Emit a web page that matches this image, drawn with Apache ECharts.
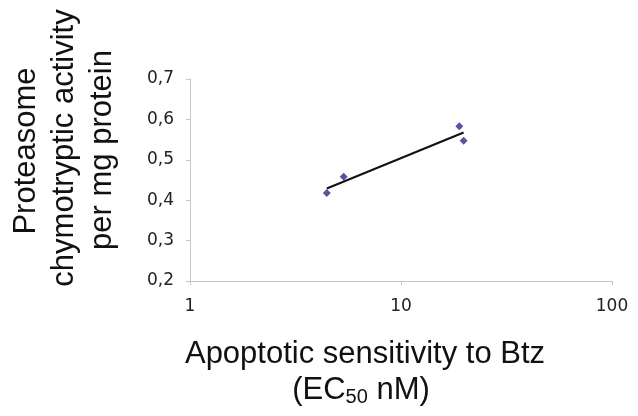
<!DOCTYPE html>
<html><head><meta charset="utf-8">
<script src="https://cdn.jsdelivr.net/npm/echarts@6/dist/echarts.min.js"></script>
<style>html,body{margin:0;padding:0;background:#fff}#c{width:638px;height:416px}</style>
</head><body><div id="c"></div>
<script>
// EC50 (nM) and proteasome activity
const ec50 = [4.45, 5.35, 18.9, 19.8];
const activity = [0.418, 0.458, 0.583, 0.547];
const yTitleLines = ['Proteasome', 'chymotryptic activity', 'per mg protein'];
const xTitleLine1 = 'Apoptotic sensitivity to Btz';

const points = ec50.map((x, i) => [x, activity[i]]);
// logarithmic trendline (straight on log axis), least squares fit of the data
const lx = ec50.map(v => Math.log10(v));
const mx = lx.reduce((a, b) => a + b, 0) / lx.length;
const my = activity.reduce((a, b) => a + b, 0) / activity.length;
let sxy = 0, sxx = 0;
lx.forEach((v, i) => { sxy += (v - mx) * (activity[i] - my); sxx += (v - mx) * (v - mx); });
const slope = sxy / sxx, icpt = my - slope * mx;
const xMin = Math.min(...ec50), xMax = Math.max(...ec50);
const trend = [[xMin, icpt + slope * Math.log10(xMin)], [xMax, icpt + slope * Math.log10(xMax)]];

const chart = echarts.init(document.getElementById('c'));
const axisGray = '#c6c6c6';
const txtFont = '"Liberation Sans", Arial, sans-serif';
const fs = 31;
chart.setOption({
  animation: false,
  backgroundColor: '#fff',
  grid: { left: 190, right: 26, top: 79, bottom: 135 },
  xAxis: {
    type: 'log', logBase: 10, min: 1, max: 100,
    axisLine: { show: true, lineStyle: { color: axisGray, width: 1 } },
    axisTick: { show: true, length: 4, lineStyle: { color: axisGray } },
    minorTick: { show: false },
    splitLine: { show: false },
    axisLabel: { color: '#222', fontFamily: '"DejaVu Sans", Verdana, sans-serif', fontSize: 17, margin: 17 }
  },
  yAxis: {
    type: 'value', min: 0.2, max: 0.7, interval: 0.1,
    axisLine: { show: true, lineStyle: { color: axisGray, width: 1 } },
    axisTick: { show: true, length: 4, lineStyle: { color: axisGray } },
    splitLine: { show: false },
    axisLabel: {
      color: '#222', fontFamily: '"DejaVu Sans", Verdana, sans-serif', fontSize: 17, margin: 16,
      formatter: v => v.toFixed(1).replace('.', ',')
    }
  },
  series: [
    {
      type: 'line', data: trend, showSymbol: false, symbol: 'none',
      lineStyle: { color: '#111', width: 2 }, z: 2
    },
    {
      type: 'scatter', data: points, symbol: 'diamond', symbolSize: 8,
      itemStyle: { color: '#2b2b88' }, z: 3
    }
  ],
  graphic: [
    { type: 'text', x: 26, y: 151, rotation: Math.PI / 2,
      style: { text: yTitleLines[0], font: fs + 'px ' + txtFont, fill: '#111', textAlign: 'center', textVerticalAlign: 'middle' } },
    { type: 'text', x: 64, y: 148, rotation: Math.PI / 2,
      style: { text: yTitleLines[1], font: fs + 'px ' + txtFont, fill: '#111', textAlign: 'center', textVerticalAlign: 'middle' } },
    { type: 'text', x: 102, y: 150, rotation: Math.PI / 2,
      style: { text: yTitleLines[2], font: fs + 'px ' + txtFont, fill: '#111', textAlign: 'center', textVerticalAlign: 'middle' } },
    { type: 'text', x: 365, y: 354,
      style: { text: xTitleLine1, font: fs + 'px ' + txtFont, fill: '#111', textAlign: 'center', textVerticalAlign: 'middle' } },
    { type: 'text', x: 361, y: 390,
      style: {
        text: '{a|(EC}{s|50}{a| nM)}', textAlign: 'center', textVerticalAlign: 'middle',
        rich: {
          a: { fontFamily: txtFont, fontSize: fs, fill: '#111', color: '#111', lineHeight: 34, verticalAlign: 'middle' },
          s: { fontFamily: txtFont, fontSize: 20, fill: '#111', color: '#111', lineHeight: 34, verticalAlign: 'bottom', padding: [14, 0, 0, 0] }
        }
      } }
  ]
});
</script>
</body></html>
